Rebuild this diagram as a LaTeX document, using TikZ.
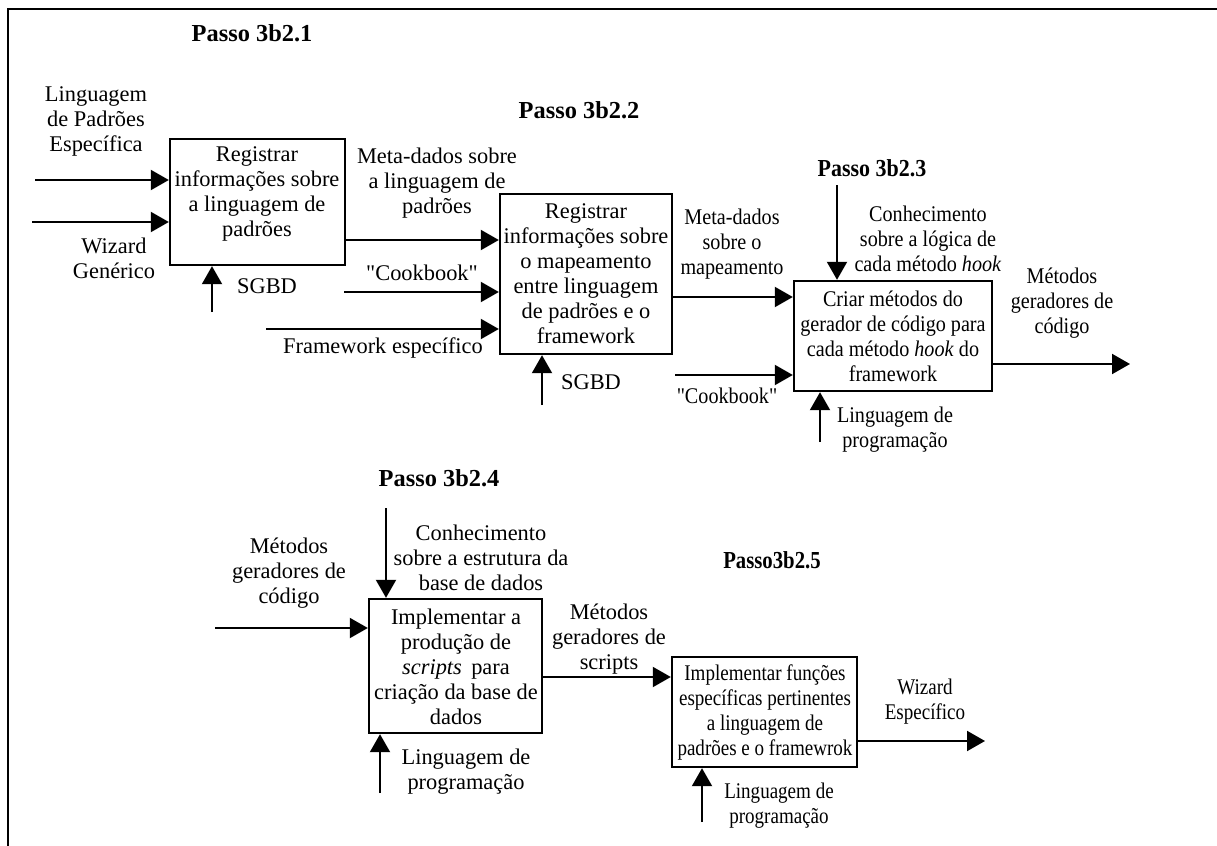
\documentclass[tikz,border=0pt]{standalone}
\usepackage{fontspec}
\setmainfont{Liberation Serif}[Ligatures=TeXOff]
% condensed cuts of the same face for the two right-hand steps
\newfontfamily\narrowA{Liberation Serif}[Ligatures=TeXOff,FakeStretch=0.9]
\newfontfamily\narrowB{Liberation Serif}[Ligatures=TeXOff,FakeStretch=0.85]
\usetikzlibrary{arrows.meta,fit}
\begin{document}
\begin{tikzpicture}[x=0.5pt,y=-0.5pt,
  box/.style={draw,line width=1.2pt,inner sep=0pt},
  txt/.style={align=center,inner sep=0pt,font=\fontsize{11.2}{12.5}\selectfont},
  txtA/.style={txt,font=\narrowA\fontsize{11.2}{12.5}\selectfont},
  txtB/.style={txt,font=\narrowB\fontsize{11.2}{12.5}\selectfont},
  title/.style={inner sep=0pt,font=\fontsize{12.2}{14}\selectfont\bfseries},
  titleA/.style={title,font=\narrowA\fontsize{12.2}{14}\selectfont\bfseries},
  titleB/.style={title,font=\narrowB\fontsize{12.2}{14}\selectfont\bfseries},
  arr/.style={line width=1pt,-{Triangle[length=9pt,width=10pt]}},
  frame/.style={line width=1pt}]
\useasboundingbox (0,0) rectangle (1217,846);

% outer frame (open to the right and bottom)
\coordinate (fr) at (8,9);
\draw[frame] (fr -| 1217,0) -- (fr) -- (fr |- 0,846);

% step titles
\node[title] (p1) at (252,33) {Passo 3b2.1};
\node[title] (p2) at (579,110) {Passo 3b2.2};
\node[titleA] (p3) at (872,168) {Passo 3b2.3};
\node[title] (p4) at (439,478) {Passo 3b2.4};
\node[titleB] (p5) at (772,560) {Passo3b2.5};

% activity boxes
\node[box,fit={(170,139) (345,265)}] (b1) {};
\node[txt] (t1) at (257,194) {Registrar\\informações sobre\\a linguagem de\\padrões};
\node[box,fit={(500,194) (672,354)}] (b2) {};
\node[txt] (t2) at (586,274) {Registrar\\informações sobre\\o mapeamento\\entre linguagem\\de padrões e o\\framework};
\node[box,fit={(794,281) (992,391)}] (b3) {};
\node[txtA] (t3) at (893,336) {Criar métodos do\\gerador de código para\\cada método \textit{hook} do\\framework};
\node[box,fit={(369,599) (542,733)}] (b4) {};
\node[txt] (t4) at (456,667) {Implementar a\\produção de\\\textit{scripts}\, para\\criação da base de\\dados};
\node[box,fit={(672,657) (857,767)}] (b5) {};
\node[txtB] (t5) at (765,712) {Implementar funções\\específicas pertinentes\\a linguagem de\\padrões e o framewrok};

% ---- step 3b2.1
\coordinate (i1a) at (35,180);
\coordinate (i1b) at (32,222);
\coordinate (m1) at (212,312);
\draw[arr] (i1a) -- (i1a -| b1.west);
\draw[arr] (i1b) -- (i1b -| b1.west);
\draw[arr] (m1) -- (m1 |- b1.south);
\node[txt] (l1a) at (96,121) {Linguagem\\de Padrões\\Específica};
\node[txt] (l1b) at (114,258) {Wizard\\Genérico};
\node[txt] (l1m) at (267,286) {SGBD};

% ---- step 3b2.2
\coordinate (o1) at (345,240);
\coordinate (i2a) at (344,292);
\coordinate (i2b) at (266,329);
\coordinate (m2) at (542,405);
\draw[arr] (o1 -| b1.east) -- (o1 -| b2.west);
\draw[arr] (i2a) -- (i2a -| b2.west);
\draw[arr] (i2b) -- (i2b -| b2.west);
\draw[arr] (m2) -- (m2 |- b2.south);
\node[txt] (lo1) at (437,183) {Meta-dados sobre\\a linguagem de\\padrões};
\node[txt] (l2a) at (422,273) {"Cookbook"};
\node[txt] (l2b) at (383,348) {Framework específico};
\node[txt] (l2m) at (591,382) {SGBD};

% ---- step 3b2.3
\coordinate (o2) at (672,297);
\coordinate (i3a) at (675,375);
\coordinate (c3) at (837,185);
\coordinate (m3) at (820,442);
\coordinate (o3) at (1130,364);
\draw[arr] (o2 -| b2.east) -- (o2 -| b3.west);
\draw[arr] (i3a) -- (i3a -| b3.west);
\draw[arr] (c3) -- (c3 |- b3.north);
\draw[arr] (m3) -- (m3 |- b3.south);
\draw[arr] (o3 -| b3.east) -- (o3);
\node[txtA] (lo2) at (732,244) {Meta-dados\\sobre o\\mapeamento};
\node[txtA] (l3a) at (727,396) {"Cookbook"};
\node[txtA] (l3c) at (928,239) {Conhecimento\\sobre a lógica de\\cada método \textit{hook}};
\node[txtA] (l3m) at (895,430) {Linguagem de\\programação};
\node[txtA] (lo3) at (1062,303) {Métodos\\geradores de\\código};

% ---- step 3b2.4
\coordinate (i4) at (215,628);
\coordinate (c4) at (386,508);
\coordinate (m4) at (380,793);
\draw[arr] (i4) -- (i4 -| b4.west);
\draw[arr] (c4) -- (c4 |- b4.north);
\draw[arr] (m4) -- (m4 |- b4.south);
\node[txt] (l4i) at (289,573) {Métodos\\geradores de\\código};
\node[txt] (l4c) at (481,558) {Conhecimento\\sobre a estrutura da\\base de dados};
\node[txt] (l4m) at (466,772) {Linguagem de\\programação};

% ---- step 3b2.5
\coordinate (o4) at (542,677);
\coordinate (m5) at (702,822);
\coordinate (o5) at (985,741);
\draw[arr] (o4 -| b4.east) -- (o4 -| b5.west);
\draw[arr] (m5) -- (m5 |- b5.south);
\draw[arr] (o5 -| b5.east) -- (o5);
\node[txt] (lo4) at (609,639) {Métodos\\geradores de\\scripts};
\node[txtB] (l5m) at (779,806) {Linguagem de\\programação};
\node[txtB] (lo5) at (925,702) {Wizard\\Específico};
\end{tikzpicture}
\end{document}
